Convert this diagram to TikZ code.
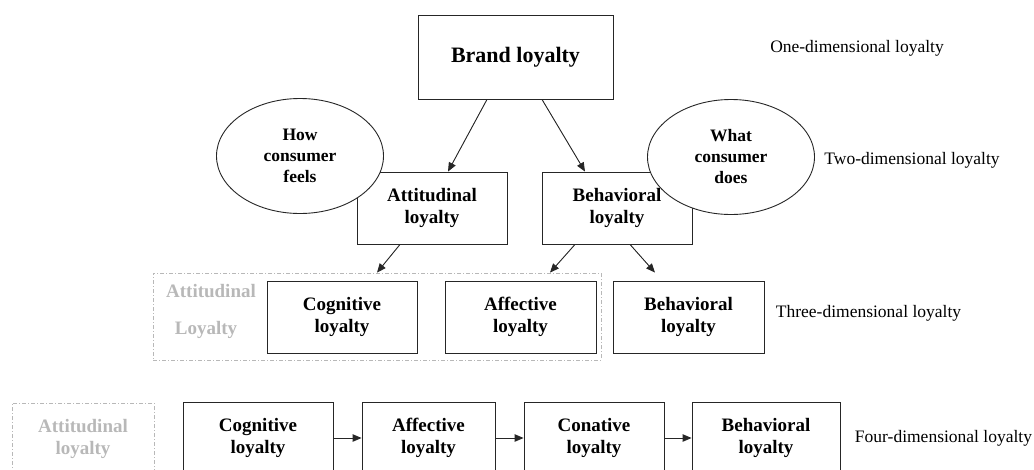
\documentclass[tikz,border=0pt]{standalone}
\usepackage{fontspec}
\setmainfont{LiberationSerif}[Extension=.ttf,UprightFont=*-Regular,BoldFont=*-Bold,ItalicFont=*-Italic,BoldItalicFont=*-BoldItalic]
\usetikzlibrary{shapes.geometric,arrows.meta}
\begin{document}
\begin{tikzpicture}[x=1pt,y=-1pt,
  box/.style={draw=black!85,line width=0.9pt,fill=white,align=center,inner sep=0pt,
    minimum height=72pt,font=\bfseries\fontsize{19}{22}\selectfont},
  oval/.style={ellipse,draw=black!85,line width=0.9pt,fill=white,align=center,inner sep=0pt,
    minimum width=167pt,minimum height=115pt,font=\bfseries\fontsize{17.5}{21}\selectfont},
  grp/.style={draw=black!28,line width=0.8pt,dash pattern=on 4pt off 2pt on 1pt off 2pt},
  graytxt/.style={text=black!28,inner sep=0pt,font=\bfseries\fontsize{19}{22}\selectfont},
  lbl/.style={inner sep=0pt,font=\fontsize{17.5}{21}\selectfont},
  arr/.style={-{Triangle[length=9pt,width=7.5pt]},line width=0.9pt,draw=black!85,fill=black!85}
]
\useasboundingbox (0,0) rectangle (1034,469);
\clip (0,0) rectangle (1034,469);

% level 1
\node[box,minimum width=195pt,minimum height=84pt,font=\bfseries\fontsize{22}{26}\selectfont] (brand) at (515.5,57) {Brand loyalty};
\node[lbl] (one) at (857,48) {One-dimensional loyalty};

% level 2
\node[box,minimum width=150pt] (att) at (432,208) {Attitudinal\\loyalty};
\node[box,minimum width=150pt] (beh2) at (617,208) {Behavioral\\loyalty};
\node[oval] (feels) at (300,156) {How\\consumer\\feels};
\node[oval] (does) at (731,157) {What\\consumer\\does};
\node[lbl] (two) at (912,160) {Two-dimensional loyalty};

% level 3
\node[grp,minimum width=448pt,minimum height=87pt,inner sep=0pt] (attgrp) at (377,316.5) {};
\node[graytxt,anchor=base] (attA) at (211,297) {Attitudinal};
\node[graytxt,anchor=base] (attB) at (206,334) {Loyalty};
\node[box,minimum width=150pt] (cog3) at (342,317) {Cognitive\\loyalty};
\node[box,minimum width=151pt] (aff3) at (520.5,317) {Affective\\loyalty};
\node[box,minimum width=151pt] (beh3) at (688.5,317) {Behavioral\\loyalty};
\node[lbl] (three) at (868.5,313.5) {Three-dimensional loyalty};

% level 4
\node[grp,minimum width=142pt,minimum height=72pt,inner sep=0pt,align=center,
  text=black!28,font=\bfseries\fontsize{19}{22}\selectfont] (attgrp4) at (83,439) {Attitudinal\\loyalty};
\node[box,minimum width=150pt] (cog4) at (258,438) {Cognitive\\loyalty};
\node[box,minimum width=133pt] (aff4) at (428.5,438) {Affective\\loyalty};
\node[box,minimum width=140pt] (con4) at (594,438) {Conative\\loyalty};
\node[box,minimum width=148pt] (beh4) at (766,438) {Behavioral\\loyalty};
\node[lbl] (four) at (943.5,438.5) {Four-dimensional loyalty};

% connectors
\draw[arr] ([xshift=-28.5pt]brand.south) -- ([xshift=16pt]att.north);
\draw[arr] ([xshift=26.5pt]brand.south) -- ([xshift=-32pt]beh2.north);
\draw[arr] ([xshift=-32pt]att.south) -- (attgrp.north);
\draw[arr] ([xshift=-42pt]beh2.south) -- ([xshift=173pt]attgrp.north);
\draw[arr] ([xshift=13pt]beh2.south) -- ([xshift=-33.5pt,yshift=8pt]beh3.north);
\draw[arr] (cog4.east) -- (aff4.west);
\draw[arr] (aff4.east) -- (con4.west);
\draw[arr] (con4.east) -- (beh4.west);
\end{tikzpicture}
\end{document}
